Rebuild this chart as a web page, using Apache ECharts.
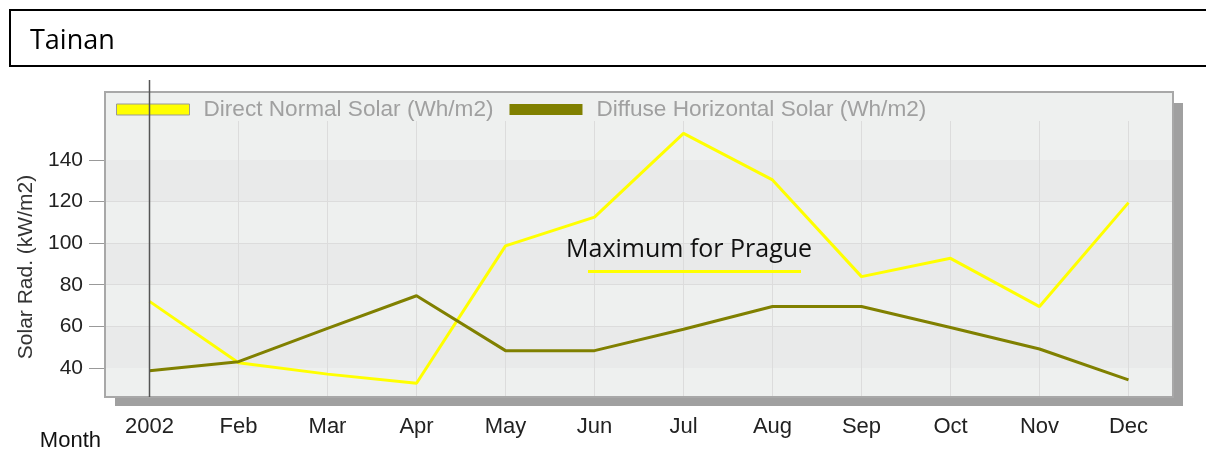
<!DOCTYPE html>
<html>
<head>
<meta charset="utf-8">
<script src="https://cdn.jsdelivr.net/npm/echarts@6/dist/echarts.min.js"></script>
<style>
  html, body { margin: 0; padding: 0; background: #ffffff; }
  #main { width: 1206px; height: 454px; }
</style>
</head>
<body>
<div id="main"></div>
<script>
// data
var months = ['2002', 'Feb', 'Mar', 'Apr', 'May', 'Jun', 'Jul', 'Aug', 'Sep', 'Oct', 'Nov', 'Dec'];
var directNormal = [72, 42.5, 37, 32.6, 98.7, 112.5, 152.8, 130.4, 83.9, 92.7, 69.5, 119.5];
var diffuseHoriz = [38.6, 43, 59, 74.7, 48.3, 48.3, 58.6, 69.5, 69.5, 59.4, 49.1, 34.2];
var yTicks = [40, 60, 80, 100, 120, 140];

var chart = echarts.init(document.getElementById('main'));
var axisFont = 'Liberation Sans, Arial, sans-serif';
var docFont = 'Open Sans, Noto Sans, sans-serif';

var elements = [
  // page title box
  { type: 'rect', z: 1, shape: { x: 10, y: 10, width: 1300, height: 56 },
    style: { fill: '#ffffff', stroke: '#000000', lineWidth: 2 } },
  { type: 'text', z: 2, x: 30, y: 41,
    style: { text: 'Tainan', font: '27px ' + docFont, fill: '#000000', verticalAlign: 'middle' } },
  // plot frame with drop shadow
  { type: 'rect', z: -20, shape: { x: 115, y: 103, width: 1068, height: 303 },
    style: { fill: '#a0a0a0' } },
  { type: 'rect', z: -19, shape: { x: 105, y: 92, width: 1068, height: 305 },
    style: { fill: '#eef0ef' } },
  { type: 'rect', z: 50, shape: { x: 105, y: 92, width: 1068, height: 305 },
    style: { fill: null, stroke: '#a8a8a8', lineWidth: 2 } },
  // annotation
  { type: 'text', z: 51, x: 566, y: 250,
    style: { text: 'Maximum for Prague', font: '25px ' + docFont, fill: '#111111', verticalAlign: 'middle' } },
  { type: 'line', z: 51, shape: { x1: 588, y1: 271.5, x2: 801, y2: 271.5 },
    style: { stroke: '#ffff00', lineWidth: 3 } },
  { type: 'text', z: 51, x: 101, y: 441,
    style: { text: 'Month', font: '22px ' + axisFont, fill: '#111111', align: 'right', verticalAlign: 'middle' } }
];

chart.setOption({
  animation: false,
  textStyle: { fontFamily: axisFont },
  legend: {
    left: 111,
    top: 93,
    itemWidth: 73,
    itemHeight: 11,
    itemGap: 16,
    icon: 'rect',
    textStyle: { fontSize: 22.6, color: '#a0a0a0', padding: [0, 0, 0, 9] },
    data: [
      { name: 'Direct Normal Solar (Wh/m2)', itemStyle: { borderColor: '#999999', borderWidth: 1 } },
      { name: 'Diffuse Horizontal Solar (Wh/m2)' }
    ]
  },
  grid: { left: 105, right: 33, top: 121, bottom: 57 },
  xAxis: {
    type: 'category',
    data: months,
    boundaryGap: true,
    axisLine: { show: false },
    axisTick: { alignWithLabel: true, length: 12, lineStyle: { color: '#dcdcdc' } },
    axisLabel: { fontSize: 22, color: '#222222', margin: 19 },
    splitLine: { show: true, alignWithLabel: true, lineStyle: { color: '#dcdcdc' } }
  },
  yAxis: {
    type: 'value',
    min: 26,
    max: 158.75,
    name: 'Solar Rad. (kW/m2)',
    nameLocation: 'middle',
    nameGap: 66,
    nameTextStyle: { fontSize: 21, color: '#333333', padding: [0, 16, 0, 0] },
    axisLine: { show: false },
    axisTick: { show: true, length: 16, customValues: yTicks, lineStyle: { color: '#999999' } },
    axisLabel: { fontSize: 21, color: '#222222', margin: 22, customValues: yTicks },
    splitLine: { show: true, showMinLine: false, showMaxLine: false, lineStyle: { color: '#dcdcdc' } },
    splitArea: { show: true, areaStyle: { color: ['#e9eaea', '#eef0ef'] } }
  },
  series: [
    {
      name: 'Direct Normal Solar (Wh/m2)',
      type: 'line',
      data: directNormal,
      symbol: 'none',
      color: '#ffff00',
      lineStyle: { color: '#ffff00', width: 3 }
    },
    {
      name: 'Diffuse Horizontal Solar (Wh/m2)',
      type: 'line',
      data: diffuseHoriz,
      symbol: 'none',
      color: '#808000',
      lineStyle: { color: '#808000', width: 3 }
    }
  ],
  graphic: elements
});

// marker line at the first month, placed through the axis scale
var markX = chart.convertToPixel({ xAxisIndex: 0 }, months[0]);
elements.push({ type: 'line', z: 52, shape: { x1: markX, y1: 80, x2: markX, y2: 397 },
  style: { stroke: '#555555', lineWidth: 1.5 } });
chart.setOption({ graphic: elements });
</script>
</body>
</html>
